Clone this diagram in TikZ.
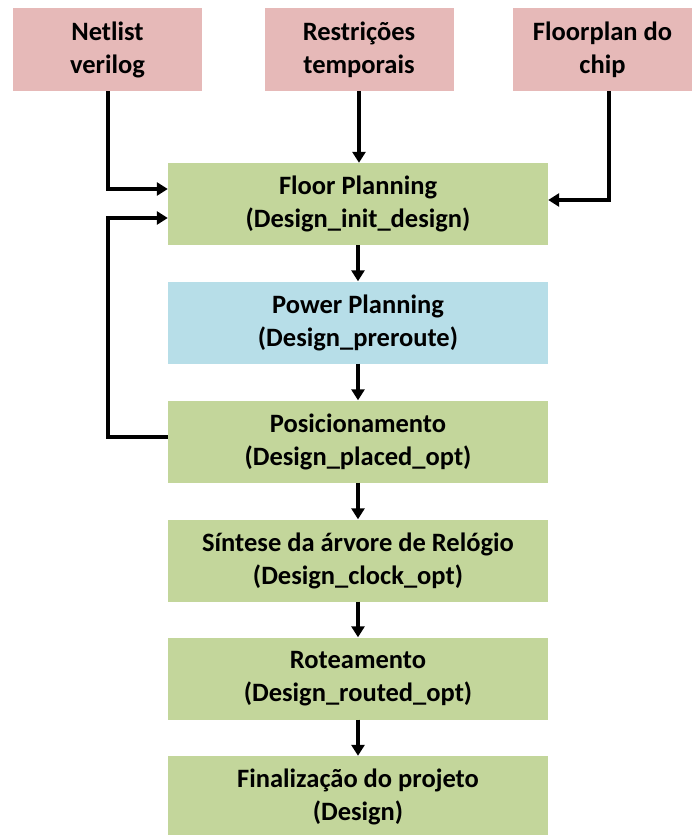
\documentclass[tikz,border=0pt]{standalone}
\usepackage{fontspec}
\setmainfont{Carlito}
\usetikzlibrary{arrows.meta}
\definecolor{rosa}{HTML}{E6B9B8}
\definecolor{verde}{HTML}{C3D69B}
\definecolor{azul}{HTML}{B7DEE8}
\begin{document}
\begin{tikzpicture}[x=1pt,y=-1pt,
		caixa/.style={inner sep=0pt,align=center,font=\bfseries\fontsize{26.5}{33}\selectfont},
		entrada/.style={caixa,fill=rosa,minimum width=189pt,minimum height=83pt},
		etapa/.style={caixa,minimum width=380pt,minimum height=82pt},
		seta/.style={line width=4pt,-{Triangle[length=11pt,width=13pt]}}]
		\useasboundingbox (0,0) rectangle (692,835);
		\node[entrada] (netlist) at (107.5,49.5) {Netlist\\verilog};
		\node[entrada] (restricoes) at (359,49.5) {Restrições\\temporais};
		\node[entrada,minimum width=179pt] (floorplan) at (602.5,49.5) {Floorplan do\\chip};
		\foreach \Nome/\Y/\Cor/\Texto in {fp/204/verde/Floor Planning\\(Design\_init\_design),pp/322.5/azul/Power Planning\\(Design\_preroute),pos/441.5/verde/Posicionamento\\(Design\_placed\_opt),cts/560.5/verde/Síntese da árvore de Relógio\\(Design\_clock\_opt),route/678.5/verde/Roteamento\\(Design\_routed\_opt),final/797/verde/Finalização do projeto\\(Design)}
		\node[etapa,fill=\Cor] (\Nome) at (358,\Y) {\Texto};
		\draw[seta] (netlist.south) |- ([yshift=15pt]fp.west);
		\draw[seta] (restricoes.south) -- (restricoes.south |- fp.north);
		\draw[seta] ([xshift=6pt]floorplan.south) |- ([yshift=4pt]fp.east);
		\draw[seta] ([yshift=5pt]pos.west) -- ++(-60,0) |- ([yshift=-14pt]fp.west);
		\foreach \De/\Para in {fp/pp,pp/pos,pos/cts,cts/route,route/final}
		\draw[seta] (\De) -- (\Para);
	\end{tikzpicture}
\end{document}
